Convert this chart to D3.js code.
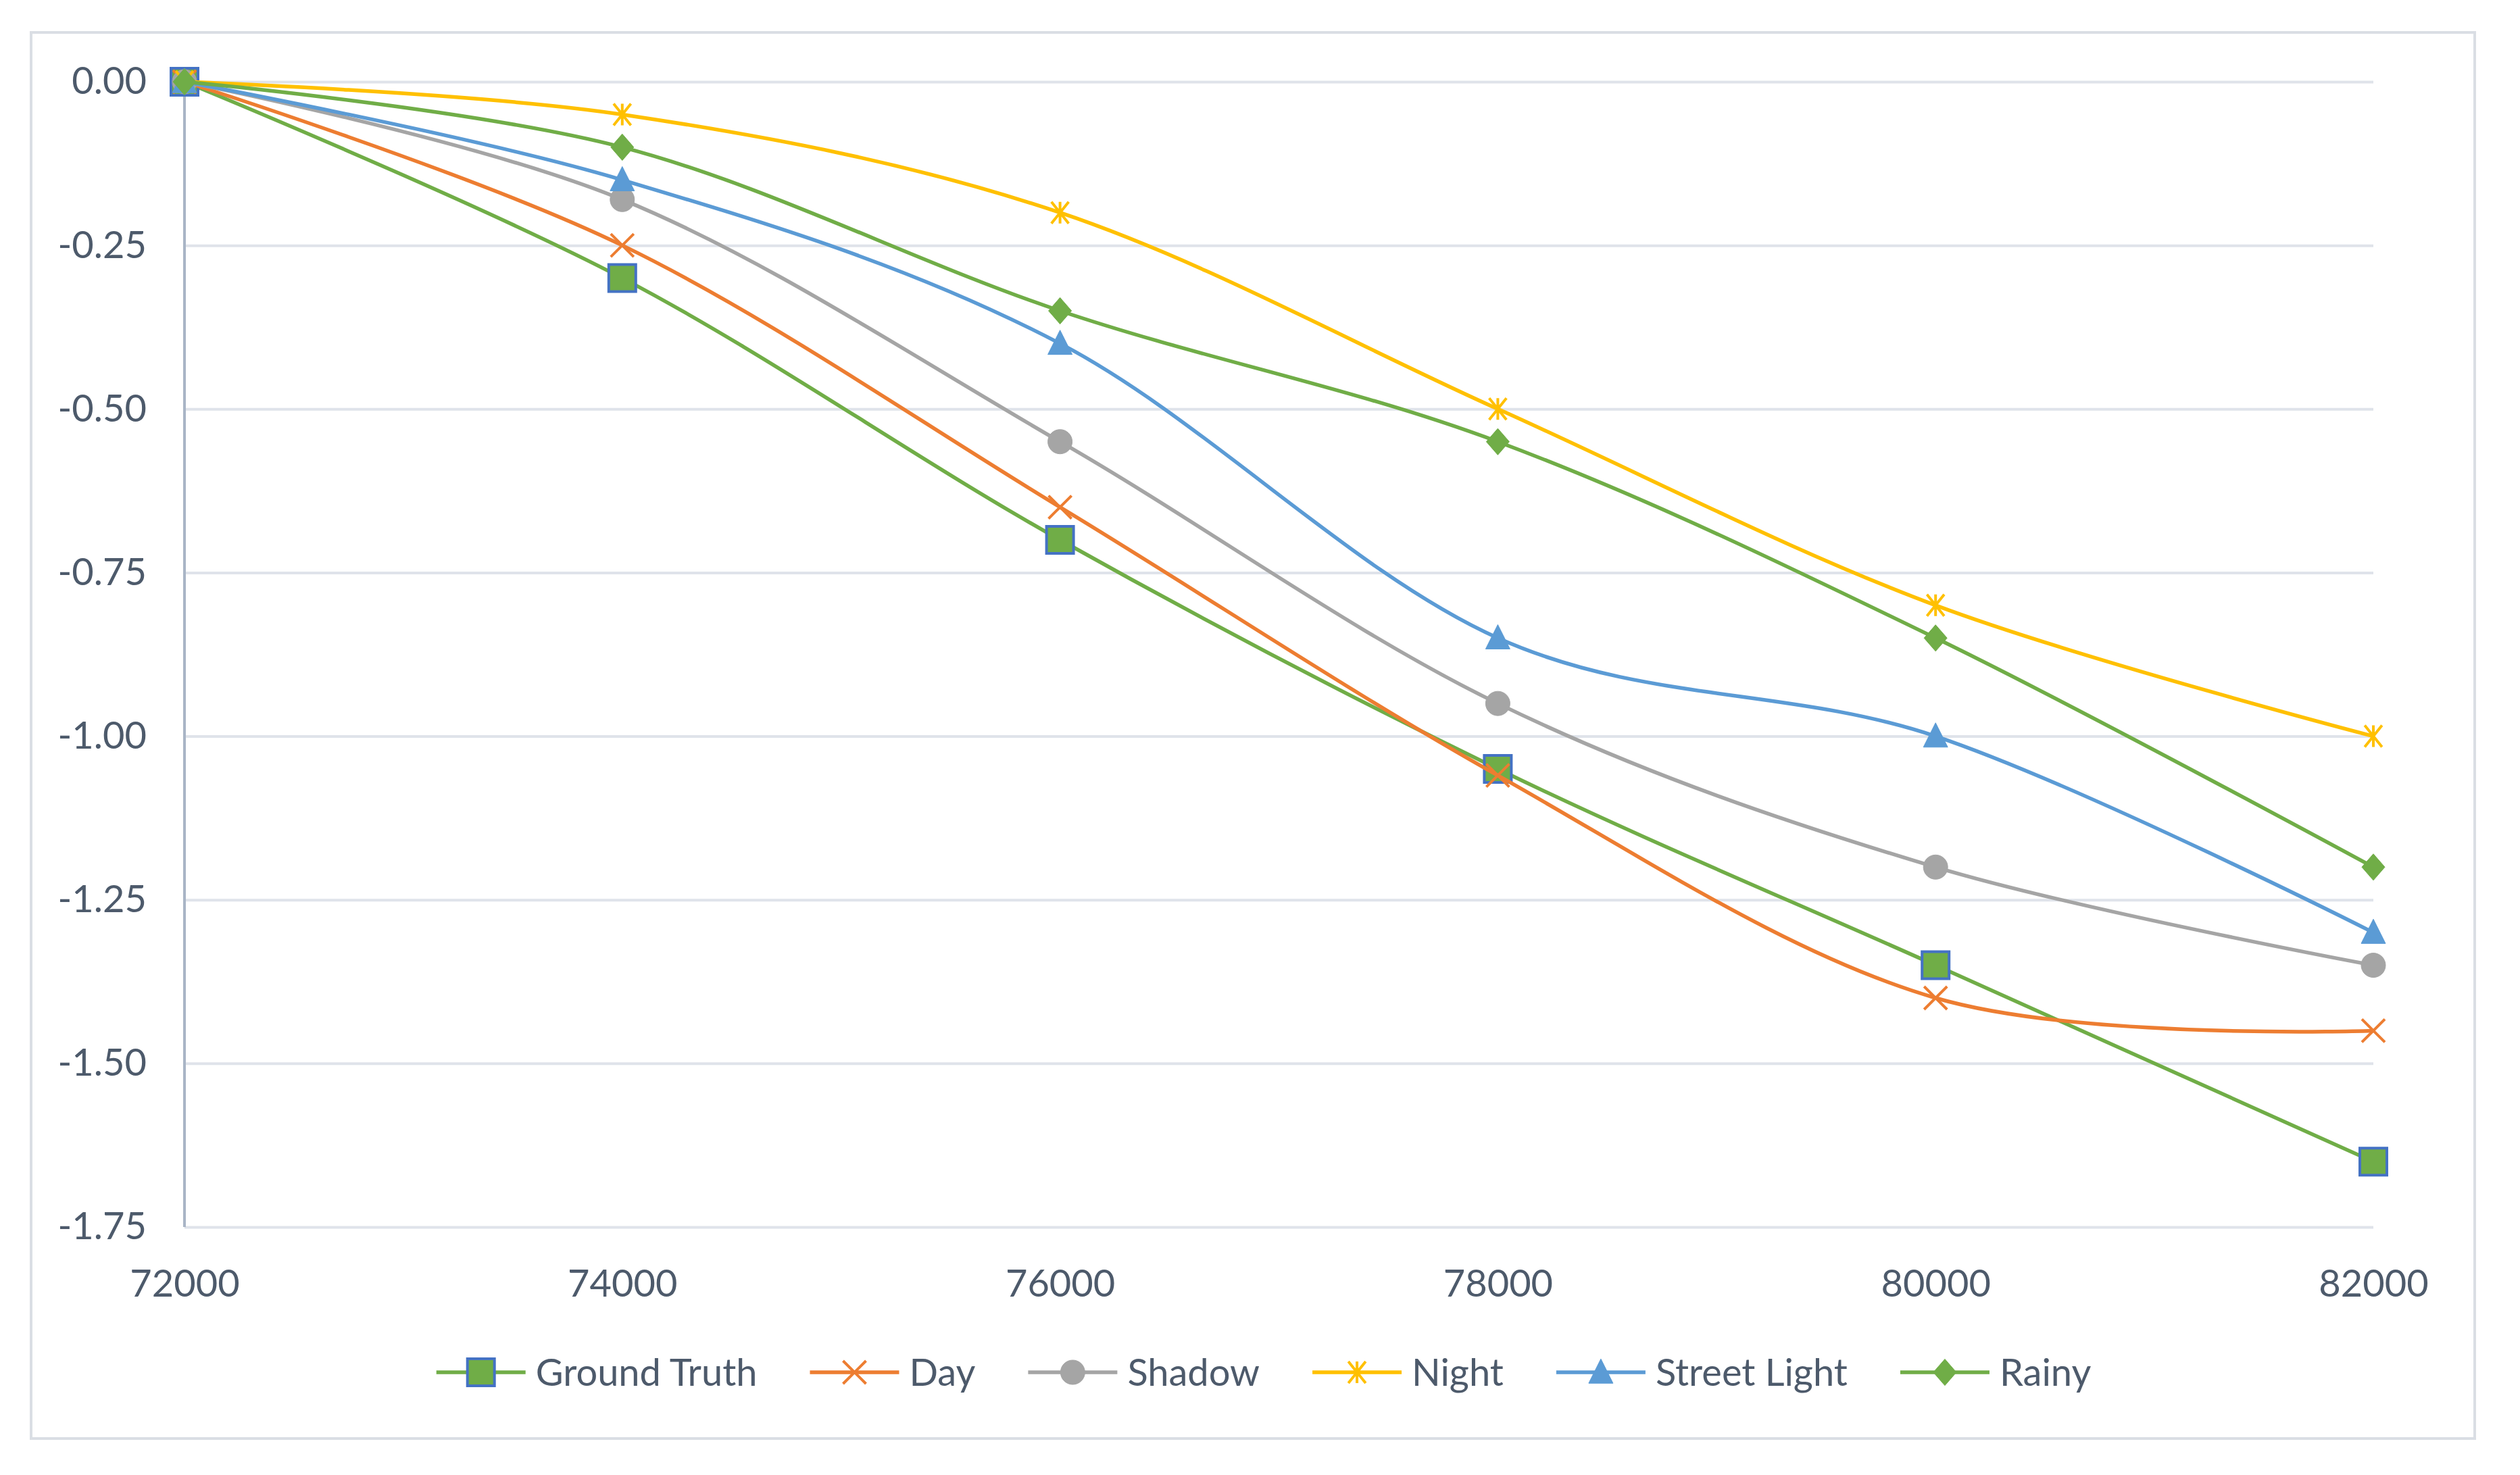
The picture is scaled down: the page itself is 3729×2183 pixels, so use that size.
<!DOCTYPE html>
<html>
<head>
  <meta charset="utf-8">
  <script src="https://cdn.jsdelivr.net/npm/d3@7"></script>
  <style>
    body { margin: 0; background: #fff; }
    text { font-family: Lato, "Open Sans", sans-serif; fill: #4d5a6b; }
  </style>
</head>
<body>
<script>
  // x values and tick labels
  var xValues = [72000, 74000, 76000, 78000, 80000, 82000];
  var yTicks = [0, -0.25, -0.5, -0.75, -1, -1.25, -1.5, -1.75];

  // series values
  var groundTruth = [0, -0.30, -0.70, -1.05, -1.35, -1.65];
  var day         = [0, -0.25, -0.65, -1.06, -1.40, -1.45];
  var shadow      = [0, -0.18, -0.55, -0.95, -1.20, -1.35];
  var night       = [0, -0.05, -0.20, -0.50, -0.80, -1.00];
  var streetLight = [0, -0.15, -0.40, -0.85, -1.00, -1.30];
  var rainy       = [0, -0.10, -0.35, -0.55, -0.85, -1.20];

  var seriesNames = ["Ground Truth", "Day", "Shadow", "Night", "Street Light", "Rainy"];

  var W = 3729, H = 2183;
  var plotLeft = 273, plotRight = 3512, plotTop = 121, plotBottom = 1816;

  var svg = d3.select("body").append("svg")
      .attr("width", W)
      .attr("height", H);

  // outer chart border
  svg.append("rect")
      .attr("x", 46).attr("y", 48)
      .attr("width", 3662 - 46).attr("height", 2129 - 48)
      .attr("fill", "#fff")
      .attr("stroke", "#dadee4")
      .attr("stroke-width", 4);

  var x = d3.scaleLinear().domain([72000, 82000]).range([plotLeft, plotRight]);
  var y = d3.scaleLinear().domain([0, -1.75]).range([plotTop, plotBottom]);

  // custom Excel-like markers, size = marker width squared
  var markSquare = { draw: function(c, s) { var r = Math.sqrt(s) / 2; c.rect(-r, -r, 2 * r, 2 * r); } };
  var markCircle = { draw: function(c, s) { var r = Math.sqrt(s) / 2; c.moveTo(r, 0); c.arc(0, 0, r, 0, 2 * Math.PI); } };
  var markTriangle = { draw: function(c, s) { var r = Math.sqrt(s) / 2; c.moveTo(0, -r * 1.1); c.lineTo(r, r * 0.9); c.lineTo(-r, r * 0.9); c.closePath(); } };
  var markDiamond = { draw: function(c, s) { var r = Math.sqrt(s) / 2; c.moveTo(0, -r * 1.15); c.lineTo(r, 0); c.lineTo(0, r * 1.15); c.lineTo(-r, 0); c.closePath(); } };
  var markTimes = { draw: function(c, s) { var r = Math.sqrt(s) / 2; c.moveTo(-r, -r); c.lineTo(r, r); c.moveTo(r, -r); c.lineTo(-r, r); } };
  var markStar = { draw: function(c, s) { var r = Math.sqrt(s) / 2; c.moveTo(-r * 0.8, -r); c.lineTo(r * 0.8, r); c.moveTo(r * 0.8, -r); c.lineTo(-r * 0.8, r); c.moveTo(0, -r); c.lineTo(0, r); } };

  var series = [
    { name: seriesNames[0], values: groundTruth, line: "#70ad47", type: markSquare, size: 40, fill: "#70ad47", stroke: "#4472c4", sw: 4 },
    { name: seriesNames[1], values: day, line: "#ed7d31", type: markTimes, size: 34, fill: "none", stroke: "#ed7d31", sw: 4 },
    { name: seriesNames[2], values: shadow, line: "#a5a5a5", type: markCircle, size: 36, fill: "#a5a5a5", stroke: "#a5a5a5", sw: 1 },
    { name: seriesNames[3], values: night, line: "#ffc000", type: markStar, size: 32, fill: "none", stroke: "#ffc000", sw: 4 },
    { name: seriesNames[4], values: streetLight, line: "#5b9bd5", type: markTriangle, size: 36, fill: "#5b9bd5", stroke: "#5b9bd5", sw: 1 },
    { name: seriesNames[5], values: rainy, line: "#70ad47", type: markDiamond, size: 34, fill: "#70ad47", stroke: "#70ad47", sw: 1 }
  ];

  // hyphen minus like the original, not the unicode minus d3 uses
  var fmtY = function(d) { return d3.format(".2f")(d).replace("\u2212", "-"); };

  // gridlines + y labels
  var yAxis = svg.append("g")
      .attr("transform", "translate(" + plotLeft + ",0)")
      .call(d3.axisLeft(y).tickValues(yTicks).tickFormat(fmtY)
            .tickSize(-(plotRight - plotLeft)).tickPadding(56));
  yAxis.select(".domain").remove();
  yAxis.selectAll("line").attr("stroke", "#dfe3ea").attr("stroke-width", 4);
  yAxis.selectAll("text").style("font-size", "56px").attr("fill", "#4d5a6b");

  // vertical axis line at 72000
  svg.append("line")
      .attr("x1", x(72000)).attr("x2", x(72000))
      .attr("y1", y(0)).attr("y2", y(-1.75))
      .attr("stroke", "#a9b5c6").attr("stroke-width", 4);

  // x labels
  var xAxis = svg.append("g")
      .attr("transform", "translate(0," + plotBottom + ")")
      .call(d3.axisBottom(x).tickValues(xValues).tickFormat(d3.format("d"))
            .tickSize(0).tickPadding(63));
  xAxis.select(".domain").remove();
  xAxis.selectAll("text").style("font-size", "56px").attr("fill", "#4d5a6b");

  var line = d3.line()
      .x(function(d, i) { return x(xValues[i]); })
      .y(function(d) { return y(d); })
      .curve(d3.curveCardinal.tension(0));

  series.forEach(function(s) {
    var g = svg.append("g");
    g.append("path")
        .attr("d", line(s.values))
        .attr("fill", "none")
        .attr("stroke", s.line)
        .attr("stroke-width", 5.5);
    g.selectAll("path.mark")
        .data(s.values)
        .enter().append("path")
        .attr("class", "mark")
        .attr("transform", function(d, i) { return "translate(" + x(xValues[i]) + "," + y(d) + ")"; })
        .attr("d", d3.symbol().type(s.type).size(s.size * s.size))
        .attr("fill", s.fill)
        .attr("stroke", s.stroke)
        .attr("stroke-width", s.sw);
  });

  // legend, laid out as a centred row
  var legY = 2031, lineLen = 132, textGap = 15, itemGap = 78;
  var legend = svg.append("g");
  var items = series.map(function(s) {
    var g = legend.append("g");
    g.append("line")
        .attr("x1", 0).attr("x2", lineLen)
        .attr("y1", 0).attr("y2", 0)
        .attr("stroke", s.line).attr("stroke-width", 5.5);
    g.append("path")
        .attr("transform", "translate(" + lineLen / 2 + ",0)")
        .attr("d", d3.symbol().type(s.type).size(s.size * s.size))
        .attr("fill", s.fill)
        .attr("stroke", s.stroke)
        .attr("stroke-width", s.sw);
    var t = g.append("text")
        .attr("x", lineLen + textGap)
        .attr("dy", "0.35em")
        .style("font-size", "56px")
        .text(s.name);
    return { g: g, w: lineLen + textGap + t.node().getComputedTextLength() };
  });
  var total = d3.sum(items, function(d) { return d.w; }) + itemGap * (items.length - 1);
  var cx = 1870 - total / 2;
  items.forEach(function(it) {
    it.g.attr("transform", "translate(" + cx + "," + legY + ")");
    cx += it.w + itemGap;
  });
</script>
</body>
</html>
